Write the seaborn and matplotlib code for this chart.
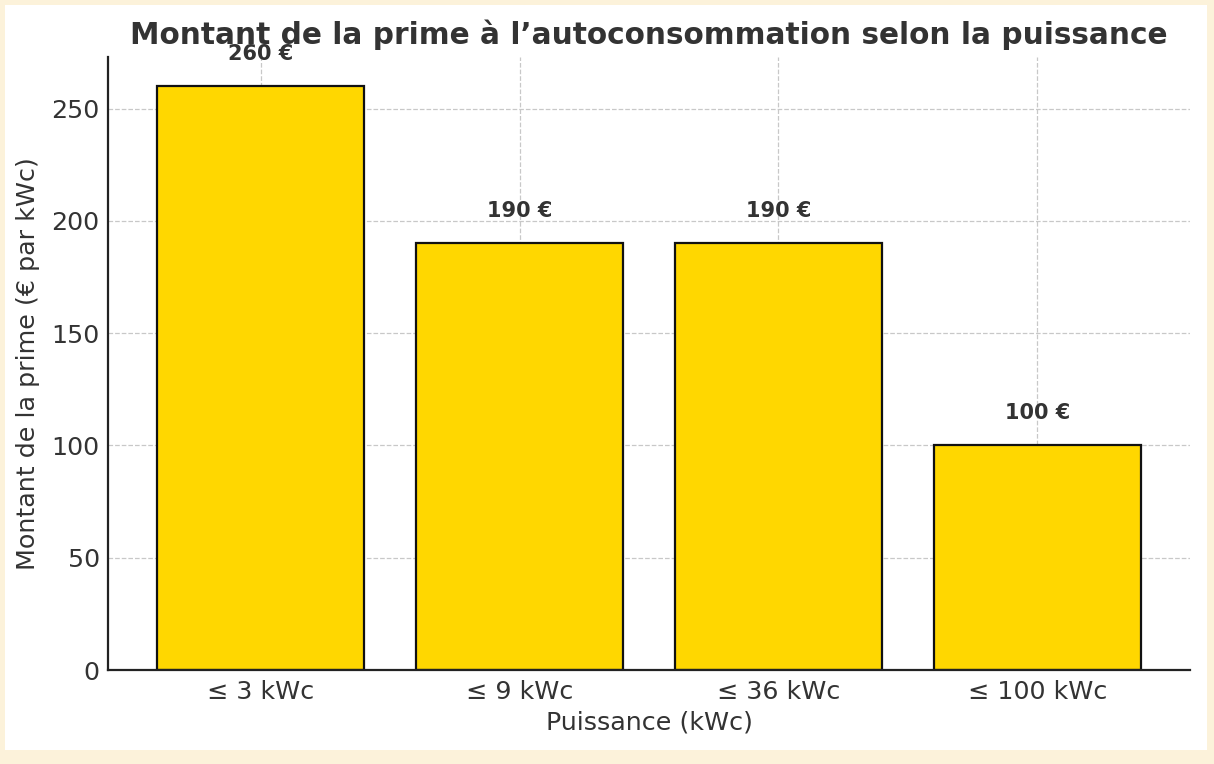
import pandas as pd
import seaborn as sns
import matplotlib.pyplot as plt
from matplotlib.patches import Rectangle

categories = ["≤ 3 kWc", "≤ 9 kWc", "≤ 36 kWc", "≤ 100 kWc"]
prime = [260, 190, 190, 100]
bar_labels = ["260 €", "190 €", "190 €", "100 €"]

df = pd.DataFrame({"puissance": categories, "prime": prime})

sns.set_style("white")
plt.rcParams["font.family"] = ["DejaVu Sans"]
TXT = "#333333"

fig = plt.figure(figsize=(12.14, 7.64), dpi=100, facecolor="#fcf2da")
# white panel inside the cream frame
fig.patches.append(Rectangle((5 / 1214, 14 / 764), 1202 / 1214, 745 / 764,
                             transform=fig.transFigure, facecolor="white",
                             edgecolor="none", zorder=-5))
ax = fig.add_axes([108 / 1214, 1 - 670 / 764, 1082 / 1214, 613 / 764])
ax.set_facecolor("white")

sns.barplot(data=df, x="puissance", y="prime", color="#ffd700",
            saturation=1, edgecolor="#111111", linewidth=1.6, width=0.8, ax=ax, zorder=2)

for i, v in enumerate(prime):
    ax.text(i, v + 10, bar_labels[i], ha="center", va="bottom",
            fontsize=15, fontweight="bold", color=TXT)

ax.set_ylim(0, 273)
ax.set_xlim(-0.59, 3.59)
ax.grid(True, linestyle="--", color="#c8c8c8", linewidth=0.9, zorder=0)
ax.set_axisbelow(True)
sns.despine(ax=ax)
for s in ["left", "bottom"]:
    ax.spines[s].set_color("#222222")
    ax.spines[s].set_linewidth(1.6)
ax.tick_params(direction="in", length=6, width=1.2, color="#222222",
               labelsize=18.3, labelcolor=TXT)
ax.tick_params(axis="y", pad=6)
ax.tick_params(axis="x", pad=7)

ax.set_title("Montant de la prime à l’autoconsommation selon la puissance",
             fontsize=21.3, fontweight="bold", color=TXT, pad=9)
ax.set_xlabel("Puissance (kWc)", fontsize=18.3, color=TXT, labelpad=5)
ax.set_ylabel("Montant de la prime (€ par kWc)", fontsize=18.3, color=TXT, labelpad=8)

fig.savefig("out.png", dpi=100, facecolor=fig.get_facecolor())
